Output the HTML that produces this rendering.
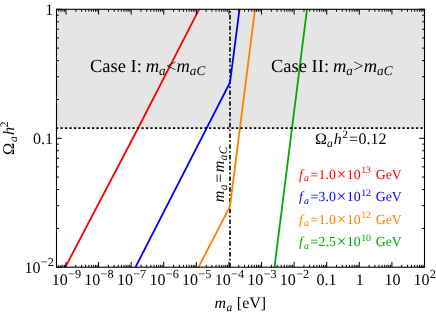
<!DOCTYPE html>
<html><head><meta charset="utf-8"><title>plot</title>
<style>
html,body{margin:0;padding:0;background:#fff;}
svg{display:block;will-change:transform;}
text{font-family:"Liberation Serif",serif;fill:#000;text-rendering:geometricPrecision;}
.i{font-style:italic;}
</style></head><body>
<svg width="436" height="312" viewBox="0 0 436 312">
<rect x="0" y="0" width="436" height="312" fill="#fff"/>
<rect x="56.5" y="9.3" width="368.0" height="118.74" fill="#e5e5e5"/>
<line x1="230" y1="267.2" x2="230" y2="9.3" stroke="#000" stroke-width="1.6" stroke-dasharray="4.5,2.25,1.8,2.22"/>
<g fill="none" stroke-width="1.8" stroke-linejoin="miter" stroke-linecap="butt">
<clipPath id="c"><rect x="56.5" y="9.3" width="368.0" height="257.9"/></clipPath>
<g clip-path="url(#c)">
<polyline stroke="#ff0000" points="61.66,274.16 138.20,128.00 202.14,3.36"/>
<polyline stroke="#0000ff" points="130.77,276.44 230.00,82.50 239.97,5.64"/>
<polyline stroke="#ff8000" points="196.93,270.24 230.00,206.40 256.25,-0.56"/>
<polyline stroke="#00aa00" points="272.88,280.10 308.62,-3.60"/>
</g></g>
<line x1="55.9" y1="128.04" x2="424.5" y2="128.04" stroke="#000" stroke-width="1.8" stroke-dasharray="2.3,2.2"/>
<rect x="56.5" y="9.3" width="368.0" height="257.9" fill="none" stroke="#000" stroke-width="1.1"/>
<path d="M58.78,267.2v-2.4M58.78,9.3v2.4M60.96,267.2v-2.4M60.96,9.3v2.4M62.85,267.2v-2.4M62.85,9.3v2.4M64.52,267.2v-2.4M64.52,9.3v2.4M66.01,267.2v-5.3M66.01,9.3v5.3M75.82,267.2v-2.4M75.82,9.3v2.4M81.56,267.2v-2.4M81.56,9.3v2.4M85.63,267.2v-2.4M85.63,9.3v2.4M88.79,267.2v-2.4M88.79,9.3v2.4M91.37,267.2v-2.4M91.37,9.3v2.4M93.55,267.2v-2.4M93.55,9.3v2.4M95.44,267.2v-2.4M95.44,9.3v2.4M97.11,267.2v-2.4M97.11,9.3v2.4M98.60,267.2v-5.3M98.60,9.3v5.3M108.41,267.2v-2.4M108.41,9.3v2.4M114.15,267.2v-2.4M114.15,9.3v2.4M118.22,267.2v-2.4M118.22,9.3v2.4M121.38,267.2v-2.4M121.38,9.3v2.4M123.96,267.2v-2.4M123.96,9.3v2.4M126.14,267.2v-2.4M126.14,9.3v2.4M128.03,267.2v-2.4M128.03,9.3v2.4M129.70,267.2v-2.4M129.70,9.3v2.4M131.19,267.2v-5.3M131.19,9.3v5.3M141.00,267.2v-2.4M141.00,9.3v2.4M146.74,267.2v-2.4M146.74,9.3v2.4M150.81,267.2v-2.4M150.81,9.3v2.4M153.97,267.2v-2.4M153.97,9.3v2.4M156.55,267.2v-2.4M156.55,9.3v2.4M158.73,267.2v-2.4M158.73,9.3v2.4M160.62,267.2v-2.4M160.62,9.3v2.4M162.29,267.2v-2.4M162.29,9.3v2.4M163.78,267.2v-5.3M163.78,9.3v5.3M173.59,267.2v-2.4M173.59,9.3v2.4M179.33,267.2v-2.4M179.33,9.3v2.4M183.40,267.2v-2.4M183.40,9.3v2.4M186.56,267.2v-2.4M186.56,9.3v2.4M189.14,267.2v-2.4M189.14,9.3v2.4M191.32,267.2v-2.4M191.32,9.3v2.4M193.21,267.2v-2.4M193.21,9.3v2.4M194.88,267.2v-2.4M194.88,9.3v2.4M196.37,267.2v-5.3M196.37,9.3v5.3M206.18,267.2v-2.4M206.18,9.3v2.4M211.92,267.2v-2.4M211.92,9.3v2.4M215.99,267.2v-2.4M215.99,9.3v2.4M219.15,267.2v-2.4M219.15,9.3v2.4M221.73,267.2v-2.4M221.73,9.3v2.4M223.91,267.2v-2.4M223.91,9.3v2.4M225.80,267.2v-2.4M225.80,9.3v2.4M227.47,267.2v-2.4M227.47,9.3v2.4M228.96,267.2v-5.3M228.96,9.3v5.3M238.77,267.2v-2.4M238.77,9.3v2.4M244.51,267.2v-2.4M244.51,9.3v2.4M248.58,267.2v-2.4M248.58,9.3v2.4M251.74,267.2v-2.4M251.74,9.3v2.4M254.32,267.2v-2.4M254.32,9.3v2.4M256.50,267.2v-2.4M256.50,9.3v2.4M258.39,267.2v-2.4M258.39,9.3v2.4M260.06,267.2v-2.4M260.06,9.3v2.4M261.55,267.2v-5.3M261.55,9.3v5.3M271.36,267.2v-2.4M271.36,9.3v2.4M277.10,267.2v-2.4M277.10,9.3v2.4M281.17,267.2v-2.4M281.17,9.3v2.4M284.33,267.2v-2.4M284.33,9.3v2.4M286.91,267.2v-2.4M286.91,9.3v2.4M289.09,267.2v-2.4M289.09,9.3v2.4M290.98,267.2v-2.4M290.98,9.3v2.4M292.65,267.2v-2.4M292.65,9.3v2.4M294.14,267.2v-5.3M294.14,9.3v5.3M303.95,267.2v-2.4M303.95,9.3v2.4M309.69,267.2v-2.4M309.69,9.3v2.4M313.76,267.2v-2.4M313.76,9.3v2.4M316.92,267.2v-2.4M316.92,9.3v2.4M319.50,267.2v-2.4M319.50,9.3v2.4M321.68,267.2v-2.4M321.68,9.3v2.4M323.57,267.2v-2.4M323.57,9.3v2.4M325.24,267.2v-2.4M325.24,9.3v2.4M326.73,267.2v-5.3M326.73,9.3v5.3M336.54,267.2v-2.4M336.54,9.3v2.4M342.28,267.2v-2.4M342.28,9.3v2.4M346.35,267.2v-2.4M346.35,9.3v2.4M349.51,267.2v-2.4M349.51,9.3v2.4M352.09,267.2v-2.4M352.09,9.3v2.4M354.27,267.2v-2.4M354.27,9.3v2.4M356.16,267.2v-2.4M356.16,9.3v2.4M357.83,267.2v-2.4M357.83,9.3v2.4M359.32,267.2v-5.3M359.32,9.3v5.3M369.13,267.2v-2.4M369.13,9.3v2.4M374.87,267.2v-2.4M374.87,9.3v2.4M378.94,267.2v-2.4M378.94,9.3v2.4M382.10,267.2v-2.4M382.10,9.3v2.4M384.68,267.2v-2.4M384.68,9.3v2.4M386.86,267.2v-2.4M386.86,9.3v2.4M388.75,267.2v-2.4M388.75,9.3v2.4M390.42,267.2v-2.4M390.42,9.3v2.4M391.91,267.2v-5.3M391.91,9.3v5.3M401.72,267.2v-2.4M401.72,9.3v2.4M407.46,267.2v-2.4M407.46,9.3v2.4M411.53,267.2v-2.4M411.53,9.3v2.4M414.69,267.2v-2.4M414.69,9.3v2.4M417.27,267.2v-2.4M417.27,9.3v2.4M419.45,267.2v-2.4M419.45,9.3v2.4M421.34,267.2v-2.4M421.34,9.3v2.4M423.01,267.2v-2.4M423.01,9.3v2.4M424.50,267.2v-5.3M424.50,9.3v5.3M56.5,267.20h5.3M424.5,267.20h-5.3M56.5,228.38h2.4M424.5,228.38h-2.4M56.5,205.68h2.4M424.5,205.68h-2.4M56.5,189.56h2.4M424.5,189.56h-2.4M56.5,177.07h2.4M424.5,177.07h-2.4M56.5,166.86h2.4M424.5,166.86h-2.4M56.5,158.22h2.4M424.5,158.22h-2.4M56.5,150.75h2.4M424.5,150.75h-2.4M56.5,144.15h2.4M424.5,144.15h-2.4M56.5,138.25h5.3M424.5,138.25h-5.3M56.5,99.43h2.4M424.5,99.43h-2.4M56.5,76.73h2.4M424.5,76.73h-2.4M56.5,60.61h2.4M424.5,60.61h-2.4M56.5,48.12h2.4M424.5,48.12h-2.4M56.5,37.91h2.4M424.5,37.91h-2.4M56.5,29.27h2.4M424.5,29.27h-2.4M56.5,21.80h2.4M424.5,21.80h-2.4M56.5,15.20h2.4M424.5,15.20h-2.4M56.5,9.30h5.3M424.5,9.30h-5.3" stroke="#000" stroke-width="1" fill="none"/>
<text x="66.41" y="284.9" font-size="16" text-anchor="middle">10<tspan font-size="12.3" dy="-7.2" dx="0.3">−9</tspan></text>
<text x="99.00" y="284.9" font-size="16" text-anchor="middle">10<tspan font-size="12.3" dy="-7.2" dx="0.3">−8</tspan></text>
<text x="131.59" y="284.9" font-size="16" text-anchor="middle">10<tspan font-size="12.3" dy="-7.2" dx="0.3">−7</tspan></text>
<text x="164.18" y="284.9" font-size="16" text-anchor="middle">10<tspan font-size="12.3" dy="-7.2" dx="0.3">−6</tspan></text>
<text x="196.77" y="284.9" font-size="16" text-anchor="middle">10<tspan font-size="12.3" dy="-7.2" dx="0.3">−5</tspan></text>
<text x="229.36" y="284.9" font-size="16" text-anchor="middle">10<tspan font-size="12.3" dy="-7.2" dx="0.3">−4</tspan></text>
<text x="261.95" y="284.9" font-size="16" text-anchor="middle">10<tspan font-size="12.3" dy="-7.2" dx="0.3">−3</tspan></text>
<text x="294.54" y="284.9" font-size="16" text-anchor="middle">10<tspan font-size="12.3" dy="-7.2" dx="0.3">−2</tspan></text>
<text x="326.53" y="284.9" font-size="16" text-anchor="middle">0.1</text>
<text x="359.82" y="284.9" font-size="16" text-anchor="middle">1</text>
<text x="392.41" y="284.9" font-size="16" text-anchor="middle">10</text>
<text x="424.70" y="284.9" font-size="16" text-anchor="middle">10<tspan font-size="12.3" dy="-7.2" dx="0.3">2</tspan></text>
<text x="53.2" y="14.80" font-size="16" text-anchor="end">1</text>
<text x="53.0" y="144.05" font-size="16" text-anchor="end">0.1</text>
<text x="53.80" y="273.0" font-size="16" text-anchor="end">10<tspan font-size="12.3" dy="-7.2" dx="0.3">−2</tspan></text>
<text x="214.6" y="307.8" font-size="16"><tspan class="i">m</tspan><tspan class="i" font-size="11.5" dy="3" dx="0.3">a</tspan><tspan dy="-3" dx="0.6"> [eV]</tspan></text>
<text transform="translate(14.3,154.9) rotate(-90)" font-size="16"><tspan font-size="16.4">Ω</tspan><tspan class="i" font-size="11.5" dy="3" dx="0.6">a</tspan><tspan class="i" dy="-3" dx="1.3">h</tspan><tspan font-size="11.5" dy="-6.6" dx="-0.3">2</tspan></text>
<text x="89.9" y="71.6" font-size="18.5">Case I: <tspan class="i" dx="-0.7">m</tspan><tspan class="i" font-size="13.2" dy="3.5">a</tspan><tspan dy="-3.5" dx="0.3">&lt;</tspan><tspan class="i">m</tspan><tspan class="i" font-size="13.2" dy="3.5">aC</tspan></text>
<text x="271" y="71.6" font-size="18.5">Case II: <tspan class="i" dx="-0.7">m</tspan><tspan class="i" font-size="13.2" dy="3.5">a</tspan><tspan dy="-3.5" dx="0.3">&gt;</tspan><tspan class="i">m</tspan><tspan class="i" font-size="13.2" dy="3.5">aC</tspan></text>
<text x="315" y="144" font-size="16">Ω<tspan class="i" font-size="11.5" dy="3">a</tspan><tspan class="i" dy="-3" dx="1">h</tspan><tspan font-size="11.5" dy="-6" dx="0.5">2</tspan><tspan dy="6" dx="1">=</tspan><tspan dx="0.7">0.12</tspan></text>
<text transform="translate(223.9,202.2) rotate(-90)" font-size="16"><tspan class="i">m</tspan><tspan class="i" font-size="11.5" dy="3" dx="0.3">a</tspan><tspan dy="-3" dx="1.9">=</tspan><tspan class="i" dx="1.4">m</tspan><tspan class="i" font-size="11.5" dy="3" dx="0.3">a</tspan><tspan class="i" font-size="11.5" dx="0.5">C</tspan></text>
<text x="298.9" y="178.5" font-size="13.8" style="fill:#ff0000"><tspan class="i">f</tspan><tspan class="i" font-size="9.9" dy="2.6" dx="1.2">a</tspan><tspan dy="-2.6" dx="1.6">=</tspan><tspan dx="0.3">1.0</tspan><tspan font-size="17.5" dx="0.8" dy="1">×</tspan><tspan dx="0.3" dy="-1">10</tspan><tspan font-size="9.9" dy="-5.4" dx="0.6">13</tspan><tspan dy="5.4" dx="1.2"> GeV</tspan></text>
<text x="298.9" y="201.1" font-size="13.8" style="fill:#0000ff"><tspan class="i">f</tspan><tspan class="i" font-size="9.9" dy="2.6" dx="1.2">a</tspan><tspan dy="-2.6" dx="1.6">=</tspan><tspan dx="0.3">3.0</tspan><tspan font-size="17.5" dx="0.8" dy="1">×</tspan><tspan dx="0.3" dy="-1">10</tspan><tspan font-size="9.9" dy="-5.4" dx="0.6">12</tspan><tspan dy="5.4" dx="1.2"> GeV</tspan></text>
<text x="298.9" y="223.7" font-size="13.8" style="fill:#ff8000"><tspan class="i">f</tspan><tspan class="i" font-size="9.9" dy="2.6" dx="1.2">a</tspan><tspan dy="-2.6" dx="1.6">=</tspan><tspan dx="0.3">1.0</tspan><tspan font-size="17.5" dx="0.8" dy="1">×</tspan><tspan dx="0.3" dy="-1">10</tspan><tspan font-size="9.9" dy="-5.4" dx="0.6">12</tspan><tspan dy="5.4" dx="1.2"> GeV</tspan></text>
<text x="298.9" y="246.3" font-size="13.8" style="fill:#00aa00"><tspan class="i">f</tspan><tspan class="i" font-size="9.9" dy="2.6" dx="1.2">a</tspan><tspan dy="-2.6" dx="1.6">=</tspan><tspan dx="0.3">2.5</tspan><tspan font-size="17.5" dx="0.8" dy="1">×</tspan><tspan dx="0.3" dy="-1">10</tspan><tspan font-size="9.9" dy="-5.4" dx="0.6">10</tspan><tspan dy="5.4" dx="1.2"> GeV</tspan></text>
</svg></body></html>
